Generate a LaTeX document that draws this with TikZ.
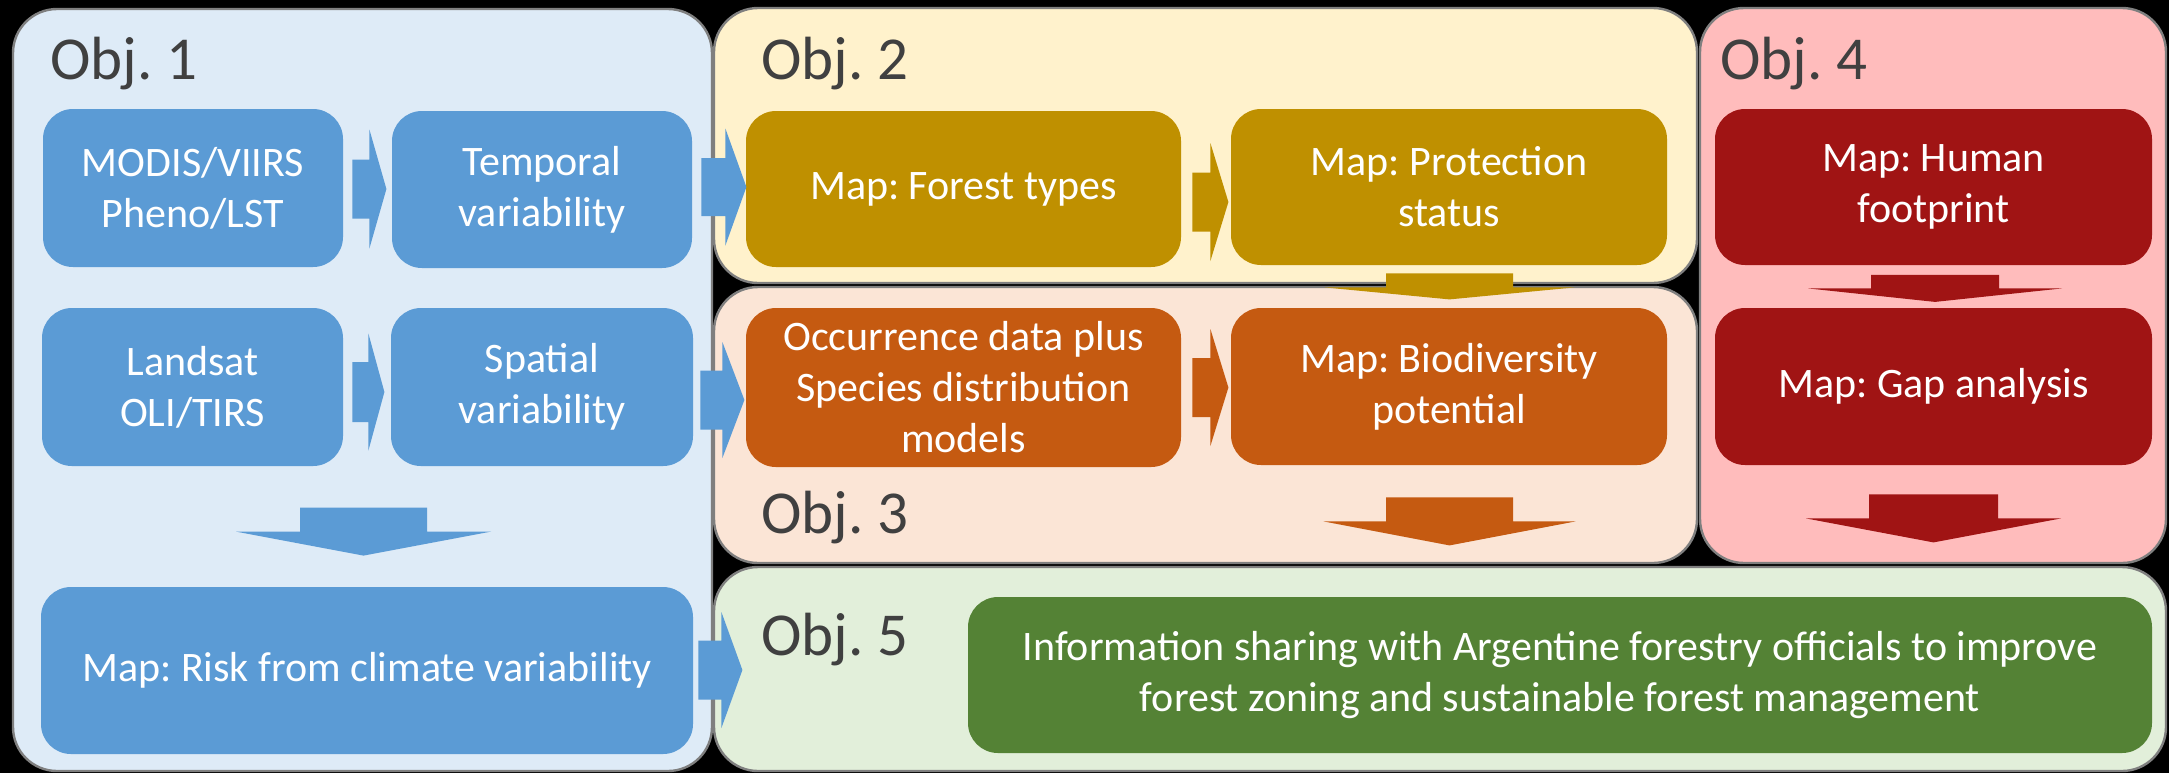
\documentclass[tikz,border=0pt]{standalone}
\usepackage{fontspec}
\setmainfont{Carlito}
\frenchspacing
\usetikzlibrary{calc}

\definecolor{cblue}{HTML}{5B9BD5}
\definecolor{cgold}{HTML}{BF9000}
\definecolor{corange}{HTML}{C55A11}
\definecolor{cred}{HTML}{A01414}
\definecolor{cgreen}{HTML}{548235}
\definecolor{fillA}{HTML}{DEEBF7}
\definecolor{fillB}{HTML}{FFF2CC}
\definecolor{fillC}{HTML}{FBE5D6}
\definecolor{fillD}{HTML}{FFBCBC}
\definecolor{fillE}{HTML}{E2EFDA}
\definecolor{rimgrey}{HTML}{7F7F7F}
\definecolor{labelgrey}{HTML}{404040}

% block arrow pointing right: colour, base centre, shaft length, head length, shaft half-height, head half-height
\newcommand\rightblock[6]{%
  \fill[#1] #2 ++(0,-#5) -- ++(#3,0) -- ++(0,#5-#6) -- ++(#4,#6) -- ++(-#4,#6)
    -- ++(0,#5-#6) -- ++(-#3,0) -- cycle;}
% block arrow pointing down: colour, top centre, shaft length, head length, shaft half-width, head half-width
\newcommand\downblock[6]{%
  \fill[#1] #2 ++(-#5,0) -- ++(0,#3) -- ++(#5-#6,0) -- ++(#6,#4) -- ++(#6,-#4)
    -- ++(#5-#6,0) -- ++(0,-#3) -- cycle;}

\tikzset{
  objpanel/.style={draw=rimgrey, line width=1.2pt, rounded corners=22pt, inner sep=0pt},
  taskbox/.style={rounded corners=15pt, inner sep=0pt, text=white, align=center,
    font=\fontsize{21}{25.5}\selectfont},
  objlabel/.style={anchor=base west, inner sep=0pt, text=labelgrey,
    font=\fontsize{30.5}{36}\selectfont},
}

\begin{document}
\begin{tikzpicture}[x=0.5pt, y=-0.5pt]
  % canvas
  \fill[black] (0,0) rectangle (2169,773);
  \useasboundingbox (0,0) rectangle (2169,773);

  % objective panels
  \node[objpanel, fill=fillA, minimum width=349.5pt, minimum height=381pt]   (p1) at (362.5,390) {};
  \node[objpanel, fill=fillB, minimum width=491.5pt, minimum height=137.5pt] (p2) at (1205.5,145.5) {};
  \node[objpanel, fill=fillC, minimum width=491.5pt, minimum height=138pt]   (p3) at (1205.5,425) {};
  \node[objpanel, fill=fillD, minimum width=233pt,   minimum height=277.5pt] (p4) at (1933,285.5) {};
  \node[objpanel, fill=fillE, minimum width=726pt,   minimum height=102pt]   (p5) at (1440,669) {};

  % panel titles
  \node[objlabel] (l1) at (50,79)   {Obj. 1};
  \node[objlabel] (l2) at (761,79)  {Obj. 2};
  \node[objlabel] (l3) at (761,533) {Obj. 3};
  \node[objlabel] (l4) at (1720,79) {Obj. 4};
  \node[objlabel] (l5) at (761,655) {Obj. 5};

  % Obj. 1
  \node[taskbox, fill=cblue, minimum width=150pt,   minimum height=79pt]   (modis)    at (193,188)     {MODIS/VIIRS\\Pheno/LST};
  \node[taskbox, fill=cblue, minimum width=150pt,   minimum height=78.5pt] (temporal) at (542,189.5)   {Temporal\\variability};
  \node[taskbox, fill=cblue, minimum width=150.5pt, minimum height=79pt]   (landsat)  at (192.5,387)   {Landsat\\OLI/TIRS};
  \node[taskbox, fill=cblue, minimum width=151pt,   minimum height=79pt]   (spatial)  at (542,387)     {Spatial\\variability};
  \node[taskbox, fill=cblue, minimum width=326pt,   minimum height=83.5pt] (risk)     at (367,670.5)   {Map: Risk from climate variability};

  % Obj. 2
  \node[taskbox, fill=cgold, minimum width=217.5pt, minimum height=78pt] (forest)  at (963.5,189) {Map: Forest types};
  \node[taskbox, fill=cgold, minimum width=218pt,   minimum height=78pt] (protect) at (1449,187)  {Map: Protection\\status};

  % Obj. 3
  \node[taskbox, fill=corange, minimum width=217.5pt, minimum height=79.5pt] (occur)  at (963.5,387.5) {Occurrence data plus\\Species distribution\\models};
  \node[taskbox, fill=corange, minimum width=218pt,   minimum height=78.5pt] (biodiv) at (1449,386.5)  {Map: Biodiversity\\potential};

  % Obj. 4
  \node[taskbox, fill=cred, minimum width=218.5pt, minimum height=78pt]   (human) at (1933.5,187)   {Map: Human\\footprint};
  \node[taskbox, fill=cred, minimum width=218.5pt, minimum height=78.5pt] (gap)   at (1933.5,386.5) {Map: Gap analysis};

  % Obj. 5
  \node[taskbox, fill=cgreen, minimum width=592pt, minimum height=78pt] (info) at (1560,675)
    {Information sharing with Argentine forestry officials to improve\\forest zoning and sustainable forest management};

  % flow arrows
  \rightblock{cblue}{($(modis.east)+(9,1)$)}{17}{17}{29.5}{59.5}
  \rightblock{cblue}{($(landsat.east)+(9,5)$)}{16}{16}{30}{58.5}
  \rightblock{cblue}{($(temporal.east)+(9,-2.5)$)}{24}{21}{29}{58.5}
  \rightblock{cblue}{($(spatial.east)+(7,13)$)}{22}{22}{29.5}{58}
  \rightblock{cblue}{($(risk.east)+(5,-0.5)$)}{23}{21}{29.5}{58}
  \rightblock{cgold}{($(forest.east)+(11,13)$)}{18}{18}{29.5}{59}
  \rightblock{corange}{($(occur.east)+(11,0)$)}{18}{18}{29.5}{58.5}

  \downblock{cblue}{($(risk.north)+(-3.5,-79)$)}{24}{24}{63.5}{127.5}
  \downblock{cgold}{($(protect.south)+(0.5,8)$)}{14}{12}{63.5}{125}
  \downblock{corange}{($(biodiv.south)+(0.5,32)$)}{24}{24}{63.5}{126}
  \downblock{cred}{($(human.south)+(1.5,9.5)$)}{13.5}{13.5}{64}{127}
  \downblock{cred}{($(gap.south)+(0,29)$)}{24}{24}{64.5}{127.5}
\end{tikzpicture}
\end{document}
